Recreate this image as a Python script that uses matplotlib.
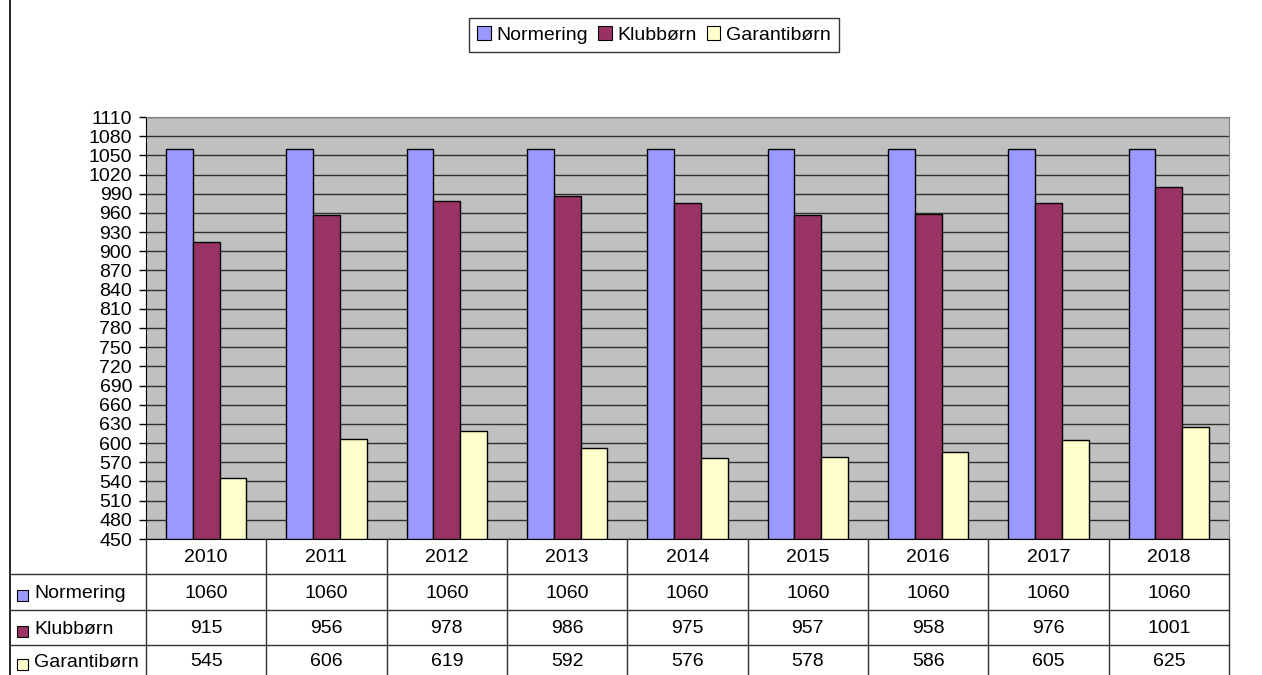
import matplotlib
matplotlib.use("Agg")
import matplotlib.pyplot as plt
import matplotlib.transforms as mtransforms
from matplotlib.patches import Patch, Rectangle
from matplotlib.lines import Line2D
import numpy as np

plt.rcParams['font.family'] = ['Liberation Sans', 'DejaVu Sans']

years = ['2010', '2011', '2012', '2013', '2014', '2015', '2016', '2017', '2018']
series_names = ['Normering', 'Klubbørn', 'Garantibørn']
normering = [1060, 1060, 1060, 1060, 1060, 1060, 1060, 1060, 1060]
klubborn = [915, 956, 978, 986, 975, 957, 958, 976, 1001]
garantiborn = [545, 606, 619, 592, 576, 578, 586, 605, 625]
colors = ['#9999FF', '#993366', '#FFFFCC']
yticks = list(range(450, 1111, 30))

W, H = 1262, 675
fig = plt.figure(figsize=(W / 100, H / 100), dpi=100)
fig.patch.set_facecolor('white')

def fx(px):
    return px / W

def fy(py):
    return 1 - py / H

FS = 14
L, R, T, B = 146, 1229, 117, 539
ax = fig.add_axes([fx(L), fy(B), fx(R) - fx(L), fy(T) - fy(B)])
ax.set_facecolor('#C0C0C0')

x = np.arange(len(years))
w = 1 / 4.5
data = [normering, klubborn, garantiborn]
for k, (vals, c) in enumerate(zip(data, colors)):
    ax.bar(x + (k - 1) * w, np.array(vals) - 450, bottom=450, width=w,
           color=c, edgecolor='black', linewidth=1, zorder=3)

ax.set_xlim(-0.5, len(years) - 0.5)
ax.set_ylim(450, 1110)
ax.set_yticks(yticks)
ax.set_yticklabels([str(v) for v in yticks], fontsize=FS)
ax.yaxis.grid(True, color='#303030', linewidth=1, zorder=1)
ax.set_axisbelow(True)
ax.set_xticks([])
ax.tick_params(axis='y', length=5, width=1, color='black', pad=5)
for s in ['top', 'right']:
    ax.spines[s].set_color('#808080')
ax.spines['left'].set_color('black')
ax.spines['bottom'].set_color('black')

# data table
tr = mtransforms.blended_transform_factory(ax.transData, fig.transFigure)
row_edges = [539, 574, 610, 645, 676]
for i in range(len(years) + 1):
    fig.add_artist(Line2D([i - 0.5, i - 0.5], [fy(539), fy(676)], transform=tr,
                          color='#303030', linewidth=1))
for ry in row_edges[1:-1]:
    fig.add_artist(Line2D([fx(11), fx(R)], [fy(ry), fy(ry)], color='#303030', linewidth=1))
fig.add_artist(Line2D([fx(10), fx(10)], [0, 1], color='black', linewidth=1.2))

for i, yr in enumerate(years):
    fig.text(i, fy((539 + 574) / 2 + 1), yr, transform=tr, ha='center', va='center', fontsize=FS)
for r, (name, vals, c) in enumerate(zip(series_names, data, colors)):
    yc = (row_edges[r + 1] + row_edges[r + 2]) / 2 + 1
    for i, v in enumerate(vals):
        fig.text(i, fy(yc), str(v), transform=tr, ha='center', va='center', fontsize=FS)
    fig.add_artist(Rectangle((fx(17), fy(yc + 8)), fx(11), fy(0) - fy(11),
                             facecolor=c, edgecolor='black', linewidth=0.8,
                             transform=fig.transFigure))
    fig.text(fx(34), fy(yc + 1), name, ha='left', va='center', fontsize=FS)

handles = [Patch(facecolor=c, edgecolor='black', linewidth=0.8, label=n)
           for c, n in zip(colors, series_names)]
leg = fig.legend(handles=handles, loc='center', bbox_to_anchor=(fx(654), fy(35)),
                 ncol=3, fontsize=FS, frameon=True, fancybox=False, edgecolor='black',
                 handlelength=0.7, handleheight=0.7, handletextpad=0.3,
                 columnspacing=0.5, borderpad=0.4, borderaxespad=0)
leg.get_frame().set_linewidth(1)

fig.savefig('out.png', dpi=100)
